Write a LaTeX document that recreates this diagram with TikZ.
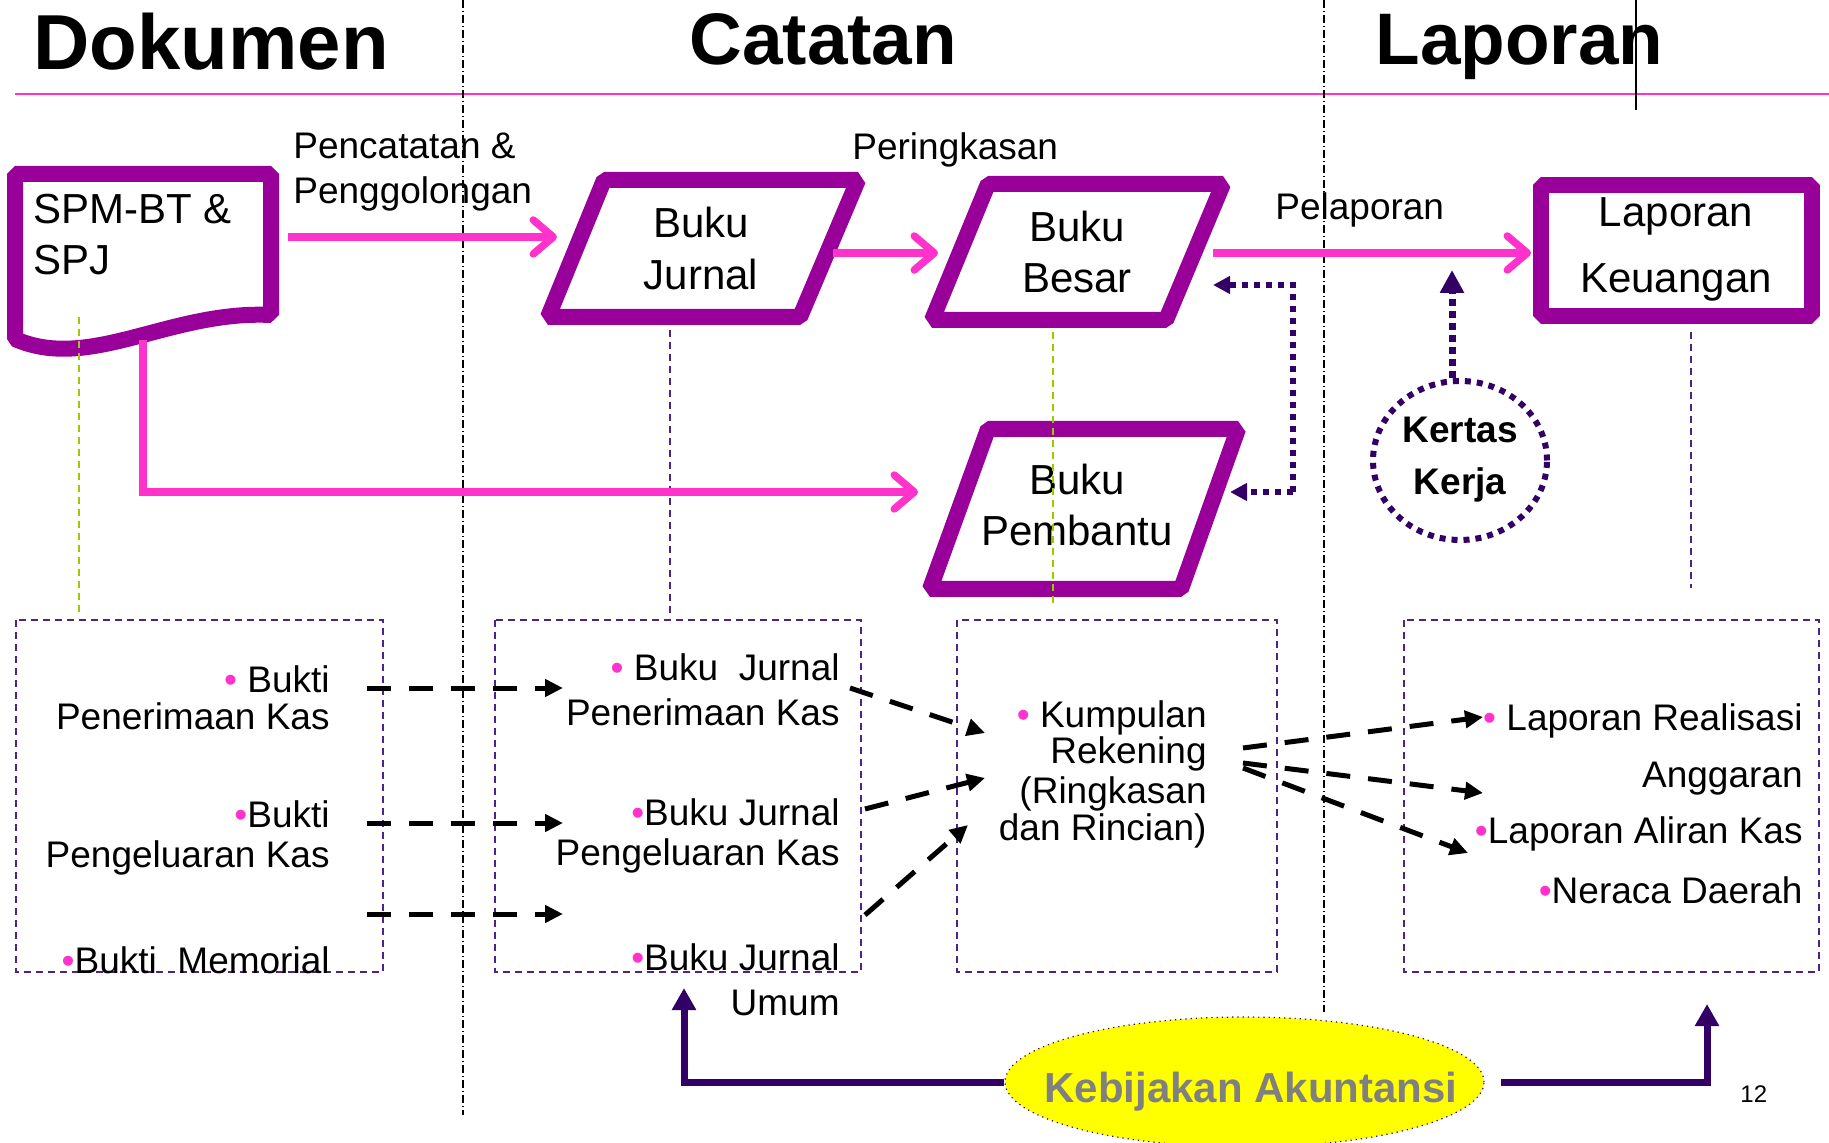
\documentclass[tikz,border=0pt]{standalone}
\usepackage{fontspec}
\setmainfont{Liberation Sans}
\usetikzlibrary{arrows.meta,shapes.geometric}
\definecolor{shpc}{HTML}{990099}
\definecolor{pnk}{HTML}{FF33CC}
\definecolor{dpur}{HTML}{330066}
\definecolor{boxl}{HTML}{4A2585}
\definecolor{ygr}{HTML}{99CC00}
\definecolor{kgray}{HTML}{808080}
\definecolor{kyel}{HTML}{FFFF00}
\newcommand{\pinkbul}{{\color{pnk}•}}
\begin{document}
\begin{tikzpicture}[x=0.5pt,y=-0.5pt,
 purpshape/.style={draw=shpc, line width=8pt, line join=bevel, fill=white},
 pnkarr/.style={draw=pnk, line width=3.75pt, -{Straight Barb[length=10pt,width=17pt,round]}},
 blkarr/.style={draw=black, line width=2.5pt, dash pattern=on 12pt off 9pt, -{Triangle[length=9pt,width=8.5pt]}},
 dotarr/.style={draw=dpur, line width=3pt, dash pattern=on 3pt off 3pt, -{Triangle[length=8.5pt,width=8.5pt]}},
 boxd/.style={draw=boxl, line width=0.75pt, dash pattern=on 3.5pt off 2.5pt},
 guideg/.style={draw=ygr, line width=0.75pt, dash pattern=on 3.5pt off 2.5pt},
 guidep/.style={draw=boxl, line width=0.75pt, dash pattern=on 3.5pt off 2.5pt},
 ddot/.style={draw=black, line width=0.6pt, dash pattern=on 4pt off 1.5pt on 0.5pt off 1.5pt},
 kbarr/.style={draw=dpur, line width=3.5pt, -{Triangle[length=11pt,width=11.5pt]}},
 big/.style={font=\fontsize{21}{25}\selectfont, inner sep=0pt, anchor=base},
 lbl/.style={font=\fontsize{18.5}{22}\selectfont, inner sep=0pt, anchor=base west},
 itm/.style={font=\fontsize{18.5}{22}\selectfont, inner sep=0pt, anchor=base east},
]
\useasboundingbox (0,0) rectangle (1829,1143);

% titles
\node[font=\bfseries\fontsize{39}{42}\selectfont, inner sep=0pt, anchor=base west] (tdok) at (33,70) {Dokumen};
\node[font=\bfseries\fontsize{36.5}{40}\selectfont, inner sep=0pt, anchor=base west] (tcat) at (689,65) {Catatan};
\node[font=\bfseries\fontsize{36.5}{40}\selectfont, inner sep=0pt, anchor=base west] (tlap) at (1375,65) {Laporan};
\draw[pnk, line width=1.25pt] (15,94) -- (1829,94);

% separators
\draw[ddot] (463,0) -- (463,1115);
\draw[ddot] (1324,0) -- (1324,1012);
\draw[black, line width=0.6pt] (1636,0) -- (1636,110);

% shapes
\draw[purpshape] (15,174) -- (271,174) -- (271,315) .. controls (170,310) and (90,372) .. (15,339) -- cycle;
\draw[purpshape] (604,180) -- (858,180) -- (800,317) -- (548,317) -- cycle;
\draw[purpshape] (988,184) -- (1223,184) -- (1166,320) -- (932,320) -- cycle;
\draw[purpshape] (988,429) -- (1238,429) -- (1181,589) -- (930,589) -- cycle;
\draw[purpshape] (1541,185) rectangle (1812,316);

% shape texts
\node[lbl, font=\fontsize{21}{25}\selectfont] (spm1) at (33,224) {SPM-BT \&};
\node[lbl, font=\fontsize{21}{25}\selectfont] (spm2) at (33,275) {SPJ};
\node[big] (bj1) at (701,238) {Buku};
\node[big] (bj2) at (701,290) {Jurnal};
\node[big] (bb1) at (1077,242) {Buku};
\node[big] (bb2) at (1077,293) {Besar};
\node[big] (bp1) at (1077,495) {Buku};
\node[big] (bp2) at (1077,546) {Pembantu};
\node[big] (lk1) at (1676,227) {Laporan};
\node[big] (lk2) at (1676,293) {Keuangan};

% guide lines
\draw[guideg] (79,317) -- (79,617);
\draw[guidep] (670,330) -- (670,618);
\draw[guideg] (1053,332) -- (1053,605);
\draw[guidep] (1691,332) -- (1691,588);

% labels
\node[lbl] (lp1) at (293,159) {Pencatatan \&};
\node[lbl] (lp2) at (293,204) {Penggolongan};
\node[lbl] (lpr) at (852,160) {Peringkasan};
\node[lbl] (lpl) at (1275,220) {Pelaporan};

% pink arrows
\coordinate (spmR) at (288,237); \coordinate (bjL) at (557,237);
\coordinate (bjR) at (833,253); \coordinate (bbL) at (938,253);
\coordinate (bbR) at (1213,253); \coordinate (lkL) at (1531,253);
\coordinate (spmB) at (143,340); \coordinate (bpL) at (918,492);
\draw[pnkarr] (spmR) -- (bjL);
\draw[pnkarr] (bjR) -- (bbL);
\draw[pnkarr] (bbR) -- (lkL);
\draw[pnkarr] (spmB) |- (bpL);

% dotted arrows
\coordinate (dtop) at (1293,285); \coordinate (dbot) at (1293,492);
\coordinate (bbD) at (1213,285); \coordinate (bpD) at (1230,492);
\draw[dotarr] (dbot) -- (dtop) -- (bbD);
\draw[dotarr] (dbot) -- (bpD);

% Kertas Kerja
\node[ellipse, draw=dpur, line width=3pt, dash pattern=on 3pt off 3pt, minimum width=87pt, minimum height=79.5pt, inner sep=0pt] (kk) at (1460,460.5) {};
\node[font=\bfseries\fontsize{18.5}{22}\selectfont, inner sep=0pt, anchor=base] (kk1) at (1460,443) {Kertas};
\node[font=\bfseries\fontsize{18.5}{22}\selectfont, inner sep=0pt, anchor=base] (kk2) at (1460,495) {Kerja};
\coordinate (kkT) at (1452,378); \coordinate (plU) at (1452,270);
\draw[draw=dpur, line width=3.5pt, dash pattern=on 3.5pt off 2.5pt, -{Triangle[length=11.5pt,width=11.5pt]}] (kkT) -- (plU);

% dashed boxes
\draw[boxd] (16,620) rectangle (383,972);
\draw[boxd] (495,620) rectangle (861,972);
\draw[boxd] (957,620) rectangle (1277,972);
\draw[boxd] (1404,620) rectangle (1819,972);

% box texts
\node[itm] (b1a) at (330,692) {\pinkbul\ Bukti};
\node[itm] (b1b) at (330,729) {Penerimaan Kas};
\node[itm] (b1c) at (330,827) {\pinkbul Bukti};
\node[itm] (b1d) at (330,867) {Pengeluaran Kas};
\node[itm] (b1e) at (330,973) {\pinkbul Bukti~~Memorial};
\node[itm] (b2a) at (840,680) {\pinkbul\ Buku~~Jurnal};
\node[itm] (b2b) at (840,725) {Penerimaan Kas};
\node[itm] (b2c) at (840,825) {\pinkbul Buku Jurnal};
\node[itm] (b2d) at (840,865) {Pengeluaran Kas};
\node[itm] (b2e) at (840,970) {\pinkbul Buku Jurnal};
\node[itm] (b2f) at (840,1015) {Umum};
\node[itm] (b3a) at (1207,727) {\pinkbul\ Kumpulan};
\node[itm] (b3b) at (1207,763) {Rekening};
\node[itm] (b3c) at (1207,803) {(Ringkasan};
\node[itm] (b3d) at (1207,840) {dan Rincian)};
\node[itm] (b4a) at (1803,730) {\pinkbul\ Laporan Realisasi};
\node[itm] (b4b) at (1803,787) {Anggaran};
\node[itm] (b4c) at (1803,843) {\pinkbul Laporan Aliran Kas};
\node[itm] (b4d) at (1803,903) {\pinkbul Neraca Daerah};

% black dashed arrows
\coordinate (r1s) at (367,688); \coordinate (r1e) at (563,688);
\coordinate (r2s) at (367,823); \coordinate (r2e) at (563,823);
\coordinate (r3s) at (367,914); \coordinate (r3e) at (563,914);
\coordinate (d1s) at (850,688); \coordinate (d1e) at (985,733);
\coordinate (d2s) at (865,809); \coordinate (d2e) at (985,778);
\coordinate (d3s) at (865,915); \coordinate (d3e) at (968,825);
\coordinate (e1s) at (1243,748); \coordinate (e1e) at (1483,717);
\coordinate (e2s) at (1243,763); \coordinate (e2e) at (1483,793);
\coordinate (e3s) at (1243,768); \coordinate (e3e) at (1468,853);
\draw[blkarr] (r1s) -- (r1e);
\draw[blkarr] (r2s) -- (r2e);
\draw[blkarr] (r3s) -- (r3e);
\draw[blkarr] (d1s) -- (d1e);
\draw[blkarr] (d2s) -- (d2e);
\draw[blkarr] (d3s) -- (d3e);
\draw[blkarr] (e1s) -- (e1e);
\draw[blkarr] (e2s) -- (e2e);
\draw[blkarr] (e3s) -- (e3e);

% Kebijakan Akuntansi
\node[ellipse, fill=kyel, draw=dpur, line width=0.6pt, dotted, minimum width=239.5pt, minimum height=65pt, inner sep=0pt] (kb) at (1244.5,1082) {};
\node[font=\bfseries\fontsize{21}{24}\selectfont, text=kgray, inner sep=0pt, anchor=base] (kbt) at (1251,1102) {Kebijakan Akuntansi};
\coordinate (bjU) at (684,988);
\coordinate (kbR) at (1501,1082); \coordinate (lpU) at (1707,1004);
\draw[kbarr] (kb.west) -| (bjU);
\draw[kbarr] (kbR) -| (lpU);

\node[font=\fontsize{12}{14}\selectfont, inner sep=0pt, anchor=base west] (pg) at (1740,1102) {12};
\end{tikzpicture}
\end{document}
